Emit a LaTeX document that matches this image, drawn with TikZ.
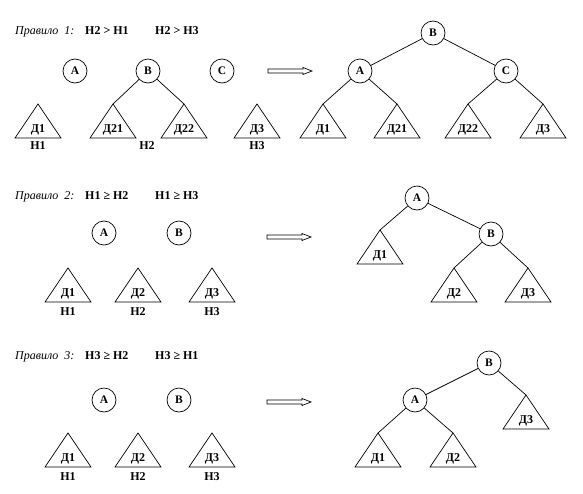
\documentclass[tikz,border=0pt]{standalone}
\usepackage{fontspec}
\setmainfont{Liberation Serif}
\usepackage{tikz}
\usetikzlibrary{positioning}

\tikzset{
  treeline/.style={black,line width=0.7pt},
  vtx/.style={draw,circle,line width=0.7pt,minimum size=24pt,inner sep=0pt,font=\fontsize{11.5}{13}\selectfont\bfseries},
  lbl/.style={inner sep=0pt,font=\fontsize{12}{14}\selectfont\bfseries},
  ttl/.style={inner sep=0pt,font=\fontsize{12}{14}\selectfont\itshape}
}
% subtree: name, apex x, apex y, label
\newcommand{\subtree}[4]{%
  \coordinate (#1) at (#2,#3);
  \draw[treeline] (#1) -- ++(-23,34) -- ++(46,0) -- cycle;
  \node[lbl,anchor=base] (#1-l) at (#2,#3+28) {#4};}
% hollow arrow at left end x, mid y
\newcommand{\hollowarrow}[2]{%
  \draw[treeline] (#1,#2-2) -- ++(35,0) -- ++(0,-1.5) -- ++(9,3.5) -- ++(-9,3.5)
    -- ++(0,-1.5) -- ++(-35,0) -- cycle;}

\begin{document}
\begin{tikzpicture}[x=1pt,y=-1pt]
  \useasboundingbox (0,0) rectangle (583,493);

  % rule 1
  \node[ttl,anchor=base west] (t1) at (15,34) {Правило\ \ 1:};
  \node[lbl,anchor=base west] (t1a) at (85,34) {Н2 > Н1};
  \node[lbl,anchor=base west] (t1b) at (155,34) {Н2 > Н3};
  \node[vtx] (a1) at (75,71) {А};
  \node[vtx] (b1) at (148,71) {В};
  \node[vtx] (c1) at (222,71) {С};
  \subtree{d1a}{38}{104}{Д1}
  \subtree{d21a}{113}{104}{Д21}
  \subtree{d22a}{184}{104}{Д22}
  \subtree{d3a}{257}{104}{Д3}
  \node[lbl,anchor=base] (h1a) at (38,149) {Н1};
  \node[lbl,anchor=base] (h2a) at (147,149) {Н2};
  \node[lbl,anchor=base] (h3a) at (257,149) {Н3};
  \draw[treeline] (b1) -- (d21a) (b1) -- (d22a);
  \hollowarrow{268}{71}
  \node[vtx] (rb1) at (433,33) {В};
  \node[vtx] (ra1) at (360,71) {А};
  \node[vtx] (rc1) at (506,71) {С};
  \subtree{rd1a}{323}{104}{Д1}
  \subtree{rd21a}{397}{104}{Д21}
  \subtree{rd22a}{468}{104}{Д22}
  \subtree{rd3a}{543}{104}{Д3}
  \draw[treeline] (rb1) -- (ra1) (rb1) -- (rc1)
    (ra1) -- (rd1a) (ra1) -- (rd21a) (rc1) -- (rd22a) (rc1) -- (rd3a);

  % rule 2
  \node[ttl,anchor=base west] (t2) at (15,199) {Правило\ \ 2:};
  \node[lbl,anchor=base west] (t2a) at (85,199) {Н1 ≥ Н2};
  \node[lbl,anchor=base west] (t2b) at (155,199) {Н1 ≥ Н3};
  \node[vtx] (a2) at (104,233) {А};
  \node[vtx] (b2) at (179,233) {В};
  \subtree{d1b}{68}{268}{Д1}
  \subtree{d2b}{138}{268}{Д2}
  \subtree{d3b}{212}{268}{Д3}
  \node[lbl,anchor=base] (h1b) at (68,315) {Н1};
  \node[lbl,anchor=base] (h2b) at (138,315) {Н2};
  \node[lbl,anchor=base] (h3b) at (212,315) {Н3};
  \hollowarrow{267}{237}
  \node[vtx] (ra2) at (417,198) {А};
  \node[vtx] (rb2) at (491,234) {В};
  \subtree{rd1b}{380}{230}{Д1}
  \subtree{rd2b}{454}{268}{Д2}
  \subtree{rd3b}{528}{268}{Д3}
  \draw[treeline] (ra2) -- (rb2) (ra2) -- (rd1b) (rb2) -- (rd2b) (rb2) -- (rd3b);

  % rule 3
  \node[ttl,anchor=base west] (t3) at (15,359) {Правило\ \ 3:};
  \node[lbl,anchor=base west] (t3a) at (85,359) {Н3 ≥ Н2};
  \node[lbl,anchor=base west] (t3b) at (155,359) {Н3 ≥ Н1};
  \node[vtx] (a3) at (104,400) {А};
  \node[vtx] (b3) at (179,400) {В};
  \subtree{d1c}{68}{433}{Д1}
  \subtree{d2c}{138}{433}{Д2}
  \subtree{d3c}{212}{433}{Д3}
  \node[lbl,anchor=base] (h1c) at (68,480) {Н1};
  \node[lbl,anchor=base] (h2c) at (138,480) {Н2};
  \node[lbl,anchor=base] (h3c) at (212,480) {Н3};
  \hollowarrow{267}{402}
  \node[vtx] (rb3) at (489,363) {В};
  \node[vtx] (ra3) at (415,400) {А};
  \subtree{rd3c}{526}{395}{Д3}
  \subtree{rd1c}{378}{433}{Д1}
  \subtree{rd2c}{453}{433}{Д2}
  \draw[treeline] (rb3) -- (ra3) (rb3) -- (rd3c) (ra3) -- (rd1c) (ra3) -- (rd2c);
\end{tikzpicture}
\end{document}
